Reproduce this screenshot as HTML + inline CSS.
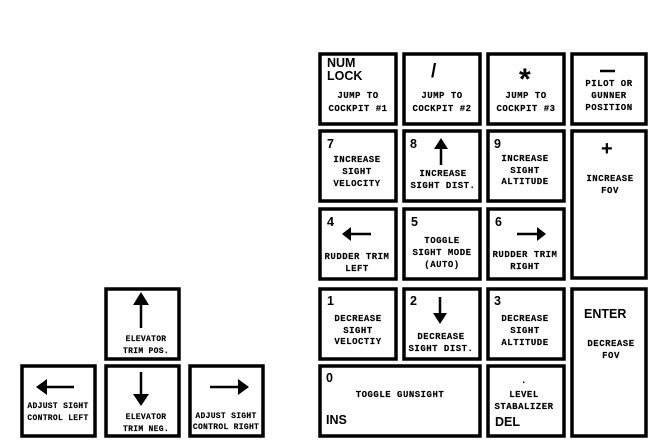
<!DOCTYPE html>
<html><head><meta charset="utf-8"><style>
html,body{margin:0;padding:0;background:#fff;width:660px;height:441px;overflow:hidden}
svg{display:block}
.s{font-family:"Liberation Mono",monospace;font-weight:bold;font-size:9px;letter-spacing:0.5px;text-anchor:middle;fill:#000;stroke:#000;stroke-width:0.15}
.t{font-size:8px;letter-spacing:0.3px}
.b{font-family:"Liberation Sans",sans-serif;font-weight:bold;font-size:12.5px;fill:#000}
rect{fill:#fff;stroke:#000;stroke-width:3.5}
line{stroke:#000;stroke-width:2.5}
</style></head><body>
<svg width="660" height="441" viewBox="0 0 660 441">
<rect x="320" y="54" width="76" height="70"/>
<rect x="404" y="54" width="76" height="70"/>
<rect x="488" y="54" width="76" height="70"/>
<rect x="572" y="54" width="74" height="70"/>
<rect x="320" y="131" width="76" height="70"/>
<rect x="404" y="131" width="76" height="70"/>
<rect x="488" y="131" width="76" height="70"/>
<rect x="572" y="131" width="74" height="147"/>
<rect x="320" y="209" width="76" height="70"/>
<rect x="404" y="209" width="76" height="70"/>
<rect x="488" y="209" width="76" height="70"/>
<rect x="320" y="289" width="76" height="70"/>
<rect x="404" y="289" width="76" height="70"/>
<rect x="488" y="289" width="76" height="70"/>
<rect x="572" y="289" width="74" height="147"/>
<rect x="320" y="366" width="160" height="70"/>
<rect x="488" y="366" width="76" height="70"/>
<rect x="106" y="289" width="73" height="70"/>
<rect x="22" y="366" width="73" height="70"/>
<rect x="106" y="366" width="73" height="70"/>
<rect x="190" y="366" width="73" height="70"/>

<text class="b" x="327" y="67">NUM</text>
<text class="b" x="327" y="80">LOCK</text>
<text class="s" x="358" y="98">JUMP TO</text>
<text class="s" x="358" y="111">COCKPIT #1</text>
<text class="b" x="431" y="77" style="font-size:19px">/</text>
<text class="s" x="442" y="98">JUMP TO</text>
<text class="s" x="442" y="111">COCKPIT #2</text>
<text class="b" x="519" y="89" style="font-size:30px">*</text>
<text class="s" x="526" y="98">JUMP TO</text>
<text class="s" x="526" y="111">COCKPIT #3</text>
<line x1="600" y1="71" x2="615" y2="71"/>
<text class="s" x="609" y="86">PILOT OR</text>
<text class="s" x="609" y="98">GUNNER</text>
<text class="s" x="609" y="110">POSITION</text>

<text class="b" x="327" y="148">7</text>
<text class="s" x="357" y="162">INCREASE</text>
<text class="s" x="357" y="174">SIGHT</text>
<text class="s" x="357" y="186">VELOCITY</text>
<text class="b" x="410" y="148">8</text>
<line x1="441" y1="146" x2="441" y2="165"/>
<polygon points="434,149 448,149 441,138"/>
<text class="s" x="443" y="176">INCREASE</text>
<text class="s" x="443" y="188">SIGHT DIST.</text>
<text class="b" x="494" y="148">9</text>
<text class="s" x="525" y="161">INCREASE</text>
<text class="s" x="525" y="173">SIGHT</text>
<text class="s" x="525" y="184">ALTITUDE</text>
<text class="b" x="601" y="155" style="font-size:20px">+</text>
<text class="s" x="610" y="181">INCREASE</text>
<text class="s" x="610" y="193">FOV</text>

<text class="b" x="327" y="226">4</text>
<line x1="348" y1="234" x2="371" y2="234"/>
<polygon points="342,234 351,227 351,241"/>
<text class="s" x="357" y="259">RUDDER TRIM</text>
<text class="s" x="357" y="271">LEFT</text>
<text class="b" x="411" y="226">5</text>
<text class="s" x="442" y="243">TOGGLE</text>
<text class="s" x="442" y="255">SIGHT MODE</text>
<text class="s" x="442" y="267">(AUTO)</text>
<text class="b" x="495" y="226">6</text>
<line x1="517" y1="234" x2="539" y2="234"/>
<polygon points="546,234 537,227 537,241"/>
<text class="s" x="525" y="257">RUDDER TRIM</text>
<text class="s" x="525" y="269">RIGHT</text>

<text class="b" x="327" y="305">1</text>
<text class="s" x="358" y="321">DECREASE</text>
<text class="s" x="358" y="333">SIGHT</text>
<text class="s" x="358" y="344">VELOCTIY</text>
<text class="b" x="410" y="305">2</text>
<line x1="440" y1="297" x2="440" y2="315"/>
<polygon points="433,313 447,313 440,324"/>
<text class="s" x="441" y="339">DECREASE</text>
<text class="s" x="441" y="351">SIGHT DIST.</text>
<text class="b" x="494" y="305">3</text>
<text class="s" x="525" y="321">DECREASE</text>
<text class="s" x="525" y="333">SIGHT</text>
<text class="s" x="525" y="345">ALTITUDE</text>
<text class="b" x="584" y="318">ENTER</text>
<text class="s" x="611" y="346">DECREASE</text>
<text class="s" x="611" y="358">FOV</text>

<text class="b" x="326" y="382">0</text>
<text class="s" x="400" y="397">TOGGLE GUNSIGHT</text>
<text class="b" x="326" y="424">INS</text>
<text class="s" x="524" y="383">.</text>
<text class="s" x="524" y="397">LEVEL</text>
<text class="s" x="524" y="409">STABALIZER</text>
<text class="b" x="495" y="426">DEL</text>

<line x1="141" y1="302" x2="141" y2="328"/>
<polygon points="133,305 149,305 141,292"/>
<text class="s t" x="146" y="341">ELEVATOR</text>
<text class="s t" x="146" y="353">TRIM POS.</text>
<line x1="44" y1="387" x2="74" y2="387"/>
<polygon points="36,387 47,379 47,395"/>
<text class="s t" x="58" y="408">ADJUST SIGHT</text>
<text class="s t" x="58" y="420">CONTROL LEFT</text>
<line x1="141" y1="372" x2="141" y2="397"/>
<polygon points="133,394 149,394 141,406"/>
<text class="s t" x="146" y="419">ELEVATOR</text>
<text class="s t" x="146" y="431">TRIM NEG.</text>
<line x1="210" y1="387" x2="240" y2="387"/>
<polygon points="249,387 238,379 238,395"/>
<text class="s t" x="226" y="418">ADJUST SIGHT</text>
<text class="s t" x="226" y="429">CONTROL RIGHT</text>
</svg>
</body></html>
